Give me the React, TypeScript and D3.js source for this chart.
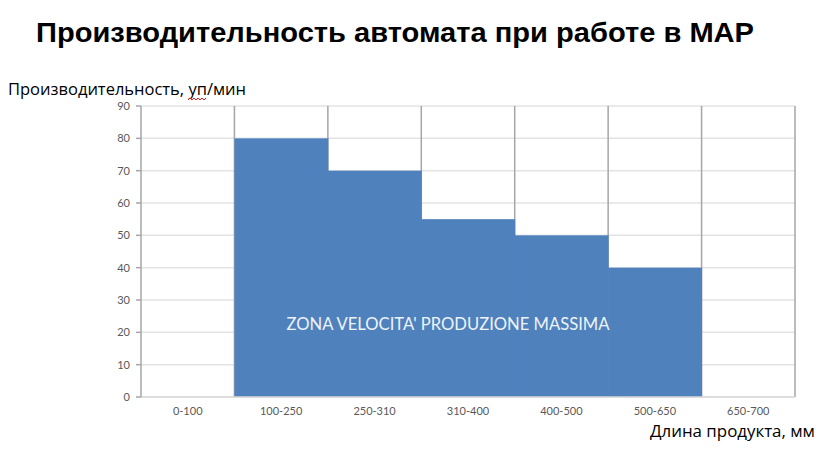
import * as React from "react";
import * as d3 from "d3";

// диапазоны длины продукта, мм
const categories = ["0-100", "100-250", "250-310", "310-400", "400-500", "500-650", "650-700"];
// производительность, уп/мин
const speeds = [0, 80, 70, 55, 50, 40, 0];
const yTicks = [0, 10, 20, 30, 40, 50, 60, 70, 80, 90];

const W = 838;
const H = 457;
const left = 141, right = 795, top = 106, bottom = 397;

const App = () => {
    const x = d3.scaleBand<string>().domain(categories).range([left, right]).padding(0);
    const y = d3.scaleLinear().domain([0, 90]).range([bottom, top]);
    const bw = x.bandwidth();

    // красная волна под "уп" (проверка орфографии)
    const squiggle = d3.range(0, 19, 2).map((d, i) => [188 + d, i % 2 ? 98 : 100] as [number, number]);

    return (
        <svg width={W} height={H} style={{ position: "absolute", left: 0, top: 0, background: "#fff" }}>
            <text x={36} y={42} fontFamily="'Liberation Sans', Arial, sans-serif" fontWeight="bold"
                fontSize={28} textLength={718} lengthAdjust="spacingAndGlyphs" fill="#000">
                Производительность автомата при работе в МАР
            </text>

            <text x={8} y={95} fontFamily="'Open Sans', sans-serif" fontSize={16}
                textLength={238} lengthAdjust="spacingAndGlyphs" fill="#000">
                Производительность, уп/мин
            </text>
            <path d={d3.line()(squiggle) || ""} fill="none" stroke="#e02020" strokeWidth={1} />

            {/* сетка */}
            {yTicks.map(t => (
                <line key={t} x1={left} x2={right} y1={y(t)} y2={y(t)} stroke="#e3e3e3" strokeWidth={1.5} />
            ))}

            {/* вертикальные линии на границах диапазонов */}
            {categories.map(c => (
                <line key={c} x1={(x(c) as number) + bw} x2={(x(c) as number) + bw} y1={top} y2={bottom}
                    stroke="#a6a6a6" strokeWidth={1.5} />
            ))}

            {categories.map((c, i) => speeds[i] > 0 && (
                <rect key={c} x={x(c) as number} y={y(speeds[i])} width={bw + 0.5}
                    height={bottom - y(speeds[i])} fill="#4f81bd" />
            ))}

            <text x={448} y={y(20) - 2} textAnchor="middle"
                fontFamily="Lato, 'Open Sans', sans-serif" fontSize={18} fill="#eef3fa"
                textLength={323} lengthAdjust="spacingAndGlyphs">
                ZONA VELOCITA' PRODUZIONE MASSIMA
            </text>

            {/* оси */}
            <line x1={left} x2={right} y1={bottom} y2={bottom} stroke="#d9d9d9" strokeWidth={1.5} />
            <line x1={left} x2={left} y1={top} y2={bottom} stroke="#a6a6a6" strokeWidth={1.5} />
            {yTicks.map(t => (
                <g key={t}>
                    <line x1={left - 5} x2={left} y1={y(t)} y2={y(t)} stroke="#a6a6a6" strokeWidth={1.5} />
                    <text x={130} y={y(t) + 4} textAnchor="end" fontFamily="Lato, 'Open Sans', sans-serif"
                        fontSize={11} fill="#595959">{t}</text>
                </g>
            ))}
            {categories.map(c => (
                <text key={c} x={(x(c) as number) + bw / 2} y={415} textAnchor="middle"
                    fontFamily="Lato, 'Open Sans', sans-serif" fontSize={11} fill="#595959">{c}</text>
            ))}

            <text x={815} y={437} textAnchor="end" fontFamily="'Open Sans', sans-serif" fontSize={16}
                textLength={165} lengthAdjust="spacingAndGlyphs" fill="#000">
                Длина продукта, мм
            </text>
        </svg>
    );
};

export default App;
